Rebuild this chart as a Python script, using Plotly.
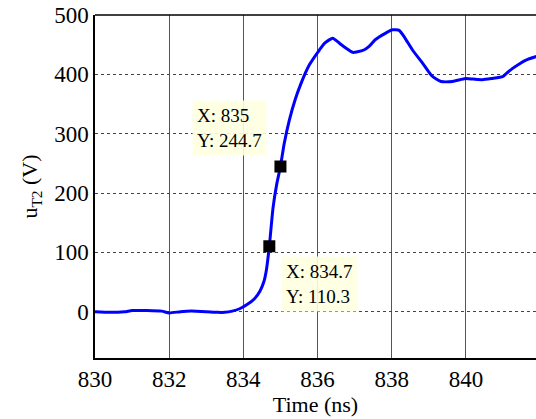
import plotly.graph_objects as go

# Waveform data (time in ns, voltage in V)
t = [830.0, 830.4, 830.8, 831.0, 831.4, 831.8, 832.0, 832.3, 832.6, 833.0, 833.3, 833.5,
     833.7, 833.9, 834.1, 834.3, 834.45, 834.55, 834.62, 834.7, 834.8, 834.9, 835.0, 835.1,
     835.24, 835.4, 835.55, 835.78, 836.05, 836.2, 836.41, 836.6, 836.77, 836.95, 837.08,
     837.25, 837.39, 837.55, 837.66, 837.85, 838.02, 838.2, 838.35, 838.56, 838.83, 839.06,
     839.2, 839.33, 839.64, 839.99, 840.2, 840.45, 840.7, 840.99, 841.1, 841.26, 841.45,
     841.62, 841.9]
u = [0, -1, 0, 2, 2, 1, -2, 0, 1, 0, -1, -1,
     1, 5, 12, 22, 35, 50, 70, 110.3, 175, 215, 244.7, 283,
     323, 358, 384, 416, 441, 453, 461, 452, 444, 437, 438,
     441, 447, 458, 463, 470, 475, 474, 462, 441, 419, 399,
     392, 388, 388, 393, 392, 391, 393, 396, 402, 410, 418,
     424, 430]

# Data cursors
cursor_x = [835.0, 834.7]
cursor_y = [244.7, 110.3]
cursor_box_x = [832.61, 835.01]
cursor_box_y = [356.7, 93.6]

x_ticks = [830, 832, 834, 836, 838, 840]
y_ticks = [0, 100, 200, 300, 400, 500]

FONT = "Times New Roman"

fig = go.Figure()
fig.add_trace(go.Scatter(x=t, y=u, mode="lines",
                         line=dict(color="#0000ff", width=3, shape="spline", smoothing=0.5),
                         showlegend=False, hoverinfo="skip"))
fig.add_trace(go.Scatter(x=cursor_x, y=cursor_y, mode="markers",
                         marker=dict(symbol="square", size=12, color="black"),
                         showlegend=False))

for bx, by, cx, cy in zip(cursor_box_x, cursor_box_y, cursor_x, cursor_y):
    fig.add_annotation(x=bx, y=by, xref="x", yref="y", xanchor="left", yanchor="top",
                       text=f"X: {cx:g}<br>Y: {cy:g}", showarrow=False, align="left",
                       font=dict(family=FONT, size=19, color="black"),
                       bgcolor="rgba(255,255,225,0.9)", borderpad=4)

fig.update_layout(
    width=536, height=419,
    margin=dict(l=95, r=0, t=15, b=61),
    paper_bgcolor="white", plot_bgcolor="white",
    font=dict(family=FONT, size=23, color="black"),
    xaxis=dict(range=[830, 841.89], tickvals=x_ticks, showgrid=True,
               gridcolor="#555", gridwidth=1, griddash="solid",
               showline=True, linecolor="black", linewidth=1.5, mirror=False,
               zeroline=False, ticks="", ticklabelstandoff=0,
               tickfont=dict(family=FONT, size=23, color="black"),
               title=dict(text="Time (ns)", standoff=0,
                          font=dict(family=FONT, size=22, color="black"))),
    yaxis=dict(range=[-78, 500], tickvals=y_ticks, showgrid=True,
               gridcolor="#444", gridwidth=1, griddash="dot",
               showline=True, linecolor="black", linewidth=1.5,
               zeroline=False, ticks="", ticklabelstandoff=0,
               tickfont=dict(family=FONT, size=23, color="black"),
               title=dict(text="u<sub>T2</sub> (V)", standoff=10,
                          font=dict(family=FONT, size=22, color="black"))),
)
fig.add_shape(type="line", xref="paper", yref="paper", x0=0, x1=1, y0=1, y1=1,
              line=dict(color="black", width=1.5))

fig.write_html("out.html")
